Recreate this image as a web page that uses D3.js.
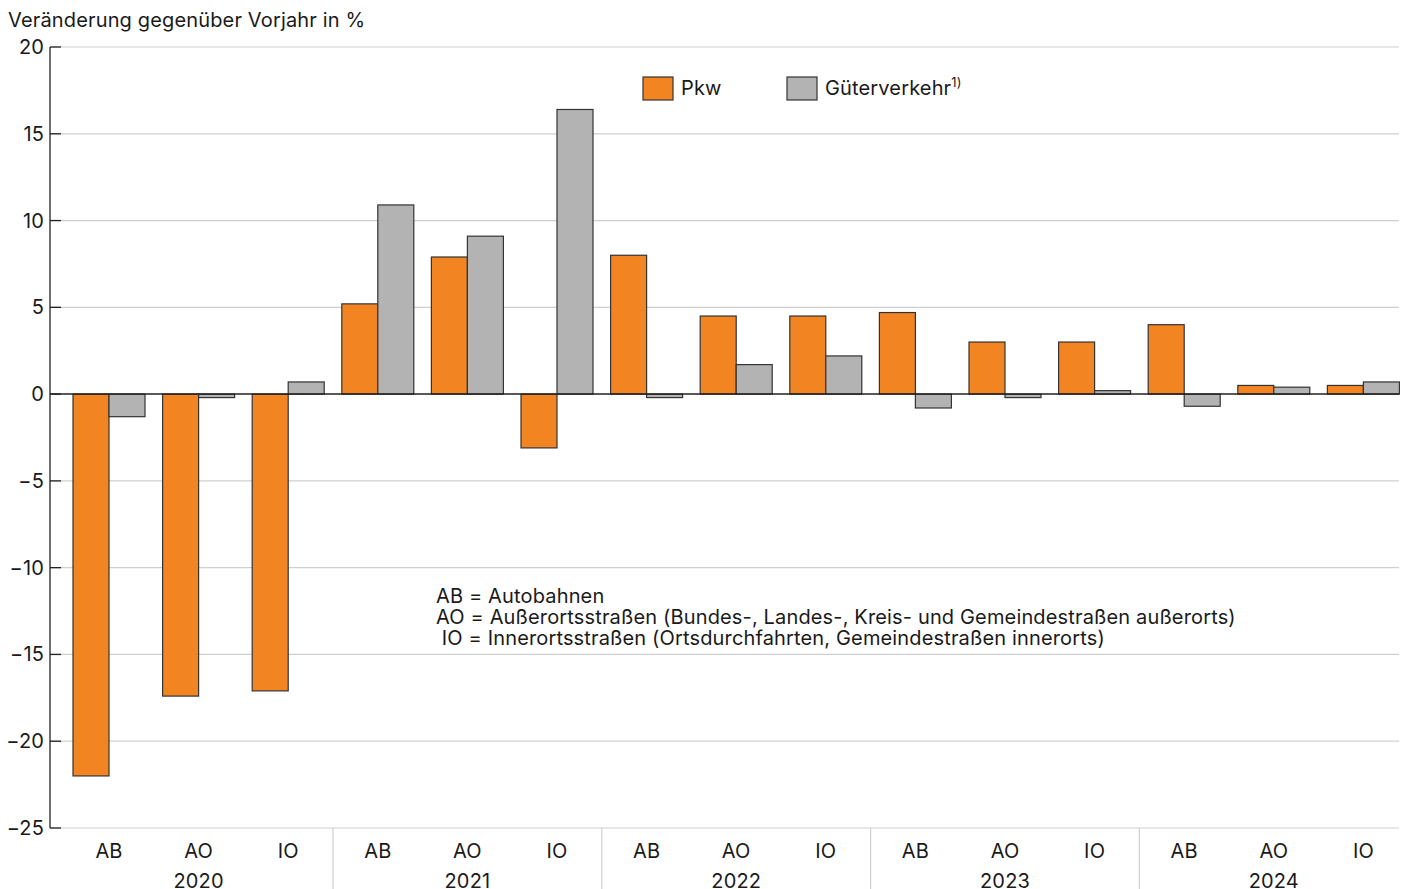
<!DOCTYPE html>
<html>
<head>
<meta charset="utf-8">
<script src="https://cdn.jsdelivr.net/npm/d3@7"></script>
<style>
  body { margin: 0; background: #fff; }
  svg text { font-family: Inter, "Noto Sans", sans-serif; fill: #1a1a1a; letter-spacing: 0.15px; }
</style>
</head>
<body>
<svg width="1407" height="889"></svg>
<script>
// data
var years = ["2020", "2021", "2022", "2023", "2024"];
var roads = ["AB", "AO", "IO"];
var pkw = [-22.0, -17.4, -17.1, 5.2, 7.9, -3.1, 8.0, 4.5, 4.5, 4.7, 3.0, 3.0, 4.0, 0.5, 0.5];
var gueter = [-1.3, -0.2, 0.7, 10.9, 9.1, 16.4, -0.2, 1.7, 2.2, -0.8, -0.2, 0.2, -0.7, 0.4, 0.7];
var yTicks = [20, 15, 10, 5, 0, -5, -10, -15, -20, -25];
var notes = ["AB = Autobahnen",
             "AO = Außerortsstraßen (Bundes-, Landes-, Kreis- und Gemeindestraßen außerorts)",
             " IO = Innerortsstraßen (Ortsdurchfahrten, Gemeindestraßen innerorts)"];

var cats = [];
years.forEach(function(yr) { roads.forEach(function(r) { cats.push(yr + "-" + r); }); });

var svg = d3.select("svg"),
    plotL = 50, plotR = 1399, plotT = 47, plotB = 828,
    fs = "20px";

var y = d3.scaleLinear().domain([-25, 20]).range([plotB, plotT]);
var x = d3.scaleBand().domain(cats).range([64.2, 1408.2]).paddingInner(0).paddingOuter(0);
var bw = 36;

// gridlines
svg.append("g").selectAll("line")
    .data(yTicks.filter(function(d) { return d != 0; }))
    .enter().append("line")
    .attr("x1", plotL).attr("x2", plotR)
    .attr("y1", function(d) { return y(d); }).attr("y2", function(d) { return y(d); })
    .attr("stroke", "#cfcfcf").attr("stroke-width", 1.2);

// y axis line + ticks
svg.append("line").attr("x1", plotL).attr("x2", plotL).attr("y1", plotT).attr("y2", plotB)
    .attr("stroke", "#222").attr("stroke-width", 1.3);
svg.append("g").selectAll("line")
    .data(yTicks)
    .enter().append("line")
    .attr("x1", plotL).attr("x2", plotL + 11)
    .attr("y1", function(d) { return y(d); }).attr("y2", function(d) { return y(d); })
    .attr("stroke", "#222").attr("stroke-width", 1.3);
svg.append("g").selectAll("text")
    .data(yTicks)
    .enter().append("text")
    .attr("x", 44).attr("y", function(d) { return y(d) + 7; })
    .attr("text-anchor", "end")
    .style("font-size", fs)
    .text(function(d) { return d < 0 ? "\u2212" + Math.abs(d) : d; });

svg.append("text").attr("x", 8).attr("y", 27).style("font-size", fs)
    .text("Veränderung gegenüber Vorjahr in %");

// year separators
svg.append("g").selectAll("line")
    .data(years.slice(1))
    .enter().append("line")
    .attr("x1", function(d) { return x(d + "-AB"); })
    .attr("x2", function(d) { return x(d + "-AB"); })
    .attr("y1", plotB).attr("y2", 889)
    .attr("stroke", "#cfcfcf").attr("stroke-width", 1.2);

// bars
var g = svg.append("g");
g.selectAll("rect.pkw")
    .data(pkw)
    .enter().append("rect")
    .attr("class", "pkw")
    .attr("x", function(d, i) { return x(cats[i]) + x.bandwidth() / 2 - bw; })
    .attr("width", bw)
    .attr("y", function(d) { return y(Math.max(0, d)); })
    .attr("height", function(d) { return Math.abs(y(d) - y(0)); })
    .attr("fill", "#f28522").attr("stroke", "#333").attr("stroke-width", 1.2);
g.selectAll("rect.gv")
    .data(gueter)
    .enter().append("rect")
    .attr("class", "gv")
    .attr("x", function(d, i) { return x(cats[i]) + x.bandwidth() / 2; })
    .attr("width", bw)
    .attr("y", function(d) { return y(Math.max(0, d)); })
    .attr("height", function(d) { return Math.abs(y(d) - y(0)); })
    .attr("fill", "#b3b3b3").attr("stroke", "#333").attr("stroke-width", 1.2);

// zero line
svg.append("line").attr("x1", plotL).attr("x2", plotR).attr("y1", y(0)).attr("y2", y(0))
    .attr("stroke", "#222").attr("stroke-width", 1.5);

// x labels
svg.append("g").selectAll("text")
    .data(cats)
    .enter().append("text")
    .attr("x", function(d) { return x(d) + x.bandwidth() / 2; })
    .attr("y", 858)
    .attr("text-anchor", "middle")
    .style("font-size", fs)
    .text(function(d) { return d.split("-")[1]; });
svg.append("g").selectAll("text")
    .data(years)
    .enter().append("text")
    .attr("x", function(d) { return x(d + "-AO") + x.bandwidth() / 2; })
    .attr("y", 888)
    .attr("text-anchor", "middle")
    .style("font-size", fs)
    .text(function(d) { return d; });

// legend
var leg = svg.append("g");
leg.append("rect").attr("x", 643).attr("y", 77).attr("width", 30).attr("height", 23)
    .attr("fill", "#f28522").attr("stroke", "#333").attr("stroke-width", 1.2);
leg.append("text").attr("x", 681).attr("y", 95).style("font-size", fs).text("Pkw");
leg.append("rect").attr("x", 787).attr("y", 77).attr("width", 30).attr("height", 23)
    .attr("fill", "#b3b3b3").attr("stroke", "#333").attr("stroke-width", 1.2);
var gt = leg.append("text").attr("x", 825).attr("y", 95).style("font-size", fs);
gt.append("tspan").text("Güterverkehr");
gt.append("tspan").attr("dy", -8).style("font-size", "13px").text("1)");

// notes
svg.append("g").selectAll("text")
    .data(notes)
    .enter().append("text")
    .attr("x", 436)
    .attr("y", function(d, i) { return 603 + i * 21; })
    .style("white-space", "pre")
    .style("font-size", fs)
    .text(function(d) { return d; });
</script>
</body>
</html>
